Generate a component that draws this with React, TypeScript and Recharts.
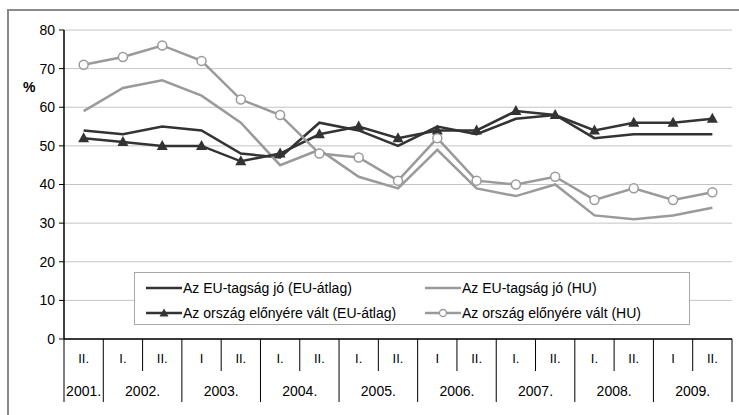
import React from 'react';
import { LineChart, Line, XAxis, YAxis, CartesianGrid } from 'recharts';

const halfYears = ['II.', 'I.', 'II.', 'I', 'II.', 'I.', 'II.', 'I.', 'II.', 'I', 'II.', 'I.', 'II.', 'I.', 'II.', 'I', 'II.'];
const years = ['2001.', '2002.', '2002.', '2003.', '2003.', '2004.', '2004.', '2005.', '2005.', '2006.', '2006.', '2007.', '2007.', '2008.', '2008.', '2009.', '2009.'];
const euGoodEU = [54, 53, 55, 54, 48, 47, 56, 54, 50, 55, 53, 57, 58, 52, 53, 53, 53];
const euGoodHU = [59, 65, 67, 63, 56, 45, 49, 42, 39, 49, 39, 37, 40, 32, 31, 32, 34];
const benefitEU = [52, 51, 50, 50, 46, 48, 53, 55, 52, 54, 54, 59, 58, 54, 56, 56, 57];
const benefitHU = [71, 73, 76, 72, 62, 58, 48, 47, 41, 52, 41, 40, 42, 36, 39, 36, 38];
const yTicks = [0, 10, 20, 30, 40, 50, 60, 70, 80];

const seriesNames = [
  'Az EU-tagság jó (EU-átlag)',
  'Az EU-tagság jó (HU)',
  'Az ország előnyére vált (EU-átlag)',
  'Az ország előnyére vált (HU)',
];

const data = halfYears.map((h, i) => ({
  key: `${years[i]}-${h}-${i}`,
  half: h,
  year: years[i],
  s1: euGoodEU[i],
  s2: euGoodHU[i],
  s3: benefitEU[i],
  s4: benefitHU[i],
}));

const W = 739;
const H = 415;
const M = { top: 30, right: 7, left: 14, bottom: 10 };
const Y_W = 50;
const X_H = 66;
const PLOT_LEFT = M.left + Y_W;
const PLOT_RIGHT = W - M.right;
const AXIS_Y = H - M.bottom - X_H;
const BAND = (PLOT_RIGHT - PLOT_LEFT) / data.length;

const DARK = '#333333';
const GRAY = '#9a9a9a';
const FONT = '"Liberation Sans", Arial, sans-serif';

const XTick = (props: any) => {
  const { x, payload } = props;
  const i = payload.index;
  const left = x - BAND / 2;
  const yearStart = i === 0 || years[i] !== years[i - 1];
  let n = 0;
  if (yearStart) {
    while (i + n < years.length && years[i + n] === years[i]) n++;
  }
  const isLast = i === data.length - 1;
  return (
    <g>
      <text x={x} y={AXIS_Y + 24} textAnchor="middle" fontSize={13} fontFamily={FONT} fill="#000">
        {halfYears[i]}
      </text>
      <line x1={left} x2={left} y1={AXIS_Y} y2={AXIS_Y + (yearStart ? 63 : 32)} stroke="#000" strokeWidth={1} />
      {yearStart && (
        <text x={left + (n * BAND) / 2} y={AXIS_Y + 57} textAnchor="middle" fontSize={14} fontFamily={FONT} fill="#000">
          {years[i]}
        </text>
      )}
      {isLast && <line x1={x + BAND / 2} x2={x + BAND / 2} y1={AXIS_Y} y2={AXIS_Y + 63} stroke="#000" strokeWidth={1} />}
    </g>
  );
};

const Triangle = (props: any) => {
  const { cx, cy } = props;
  if (cx == null || cy == null) return null;
  return <path d={`M${cx},${cy - 6} L${cx + 5.5},${cy + 4} L${cx - 5.5},${cy + 4} Z`} fill={DARK} />;
};

const Circle = (props: any) => {
  const { cx, cy } = props;
  if (cx == null || cy == null) return null;
  return <circle cx={cx} cy={cy} r={4.5} fill="#fff" stroke={GRAY} strokeWidth={1.5} />;
};

const LegendIcon = ({ color, marker }: { color: string; marker: 'none' | 'tri' | 'circle' }) => (
  <svg width={36} height={12} style={{ display: 'block' }}>
    <line x1={0} x2={36} y1={6} y2={6} stroke={color} strokeWidth={2.5} />
    {marker === 'tri' && <path d="M18,1.5 L22.5,9.5 L13.5,9.5 Z" fill={color} />}
    {marker === 'circle' && <circle cx={18} cy={6} r={3.5} fill="#fff" stroke={color} strokeWidth={1.3} />}
  </svg>
);

const legendItems: { name: string; color: string; marker: 'none' | 'tri' | 'circle'; left: number; top: number }[] = [
  { name: seriesNames[0], color: DARK, marker: 'none', left: 11, top: 7 },
  { name: seriesNames[1], color: GRAY, marker: 'none', left: 290, top: 7 },
  { name: seriesNames[2], color: DARK, marker: 'tri', left: 11, top: 32 },
  { name: seriesNames[3], color: GRAY, marker: 'circle', left: 290, top: 32 },
];

export default function App() {
  return (
    <div style={{ position: 'absolute', left: 0, top: 0, width: W, height: H, overflow: 'hidden', background: '#fff' }}>
      <div
        style={{
          position: 'absolute',
          left: 7,
          top: 9,
          width: W - 7,
          height: H - 9,
          borderTop: '2px solid #8a8a8a',
          borderLeft: '2px solid #8a8a8a',
          boxSizing: 'border-box',
        }}
      />
      <div style={{ position: 'absolute', left: 0, top: 0 }}>
        <LineChart width={W} height={H} data={data} margin={M}>
          <CartesianGrid horizontal vertical={false} stroke="#c4c4c4" strokeWidth={1} />
          <XAxis
            dataKey="key"
            scale="band"
            interval={0}
            tick={<XTick />}
            tickLine={false}
            axisLine={{ stroke: '#000', strokeWidth: 1.5 }}
            height={X_H}
          />
          <YAxis
            domain={[0, 80]}
            ticks={yTicks}
            width={Y_W}
            tickSize={5}
            tickMargin={4}
            tickLine={{ stroke: '#000' }}
            axisLine={{ stroke: '#000', strokeWidth: 1.5 }}
            tick={{ fontSize: 14, fontFamily: FONT, fill: '#000' }}
            interval={0}
          />
          <YAxis
            yAxisId="r"
            orientation="right"
            width={0}
            tick={false}
            tickLine={false}
            axisLine={{ stroke: '#b0b0b0', strokeWidth: 2 }}
            domain={[0, 80]}
          />
          <Line dataKey="s1" name={seriesNames[0]} stroke={DARK} strokeWidth={2.5} dot={false} isAnimationActive={false} type="linear" />
          <Line dataKey="s2" name={seriesNames[1]} stroke={GRAY} strokeWidth={2.5} dot={false} isAnimationActive={false} type="linear" />
          <Line dataKey="s3" name={seriesNames[2]} stroke={DARK} strokeWidth={2.5} dot={<Triangle />} isAnimationActive={false} type="linear" />
          <Line dataKey="s4" name={seriesNames[3]} stroke={GRAY} strokeWidth={2.5} dot={<Circle />} isAnimationActive={false} type="linear" />
        </LineChart>
      </div>
      <div
        style={{
          position: 'absolute',
          left: 23,
          top: 79,
          fontFamily: FONT,
          fontSize: 14,
          fontWeight: 'bold',
          color: '#000',
        }}
      >
        %
      </div>
      <div
        style={{
          position: 'absolute',
          left: 134,
          top: 272,
          width: 556,
          height: 53,
          border: '1px solid #a8a8a8',
          background: '#fff',
          boxSizing: 'border-box',
          fontFamily: FONT,
          fontSize: 14,
          color: '#000',
        }}
      >
        {legendItems.map((it) => (
          <div
            key={it.name}
            style={{ position: 'absolute', left: it.left, top: it.top, display: 'flex', alignItems: 'center', whiteSpace: 'nowrap', height: 16 }}
          >
            <LegendIcon color={it.color} marker={it.marker} />
            <span style={{ marginLeft: 1 }}>{it.name}</span>
          </div>
        ))}
      </div>
    </div>
  );
}
